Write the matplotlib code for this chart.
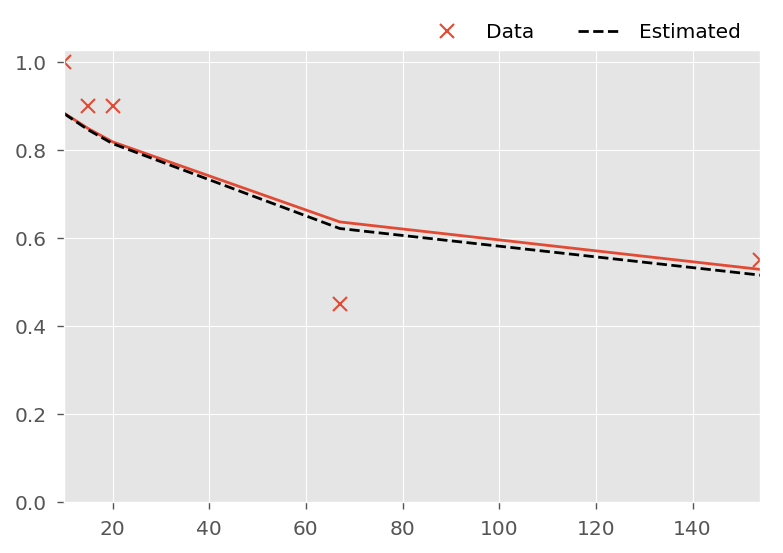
import matplotlib
matplotlib.use("Agg")
import matplotlib.pyplot as plt

plt.style.use("ggplot")

# observed points
data_x = [10, 15, 20, 67, 154]
data_y = [1.0, 0.9, 0.9, 0.45, 0.55]

# fitted curve (red) and estimated curve (black dashed)
fit_y = [0.884, 0.849, 0.819, 0.637, 0.529]
est_y = [0.883, 0.846, 0.815, 0.622, 0.516]

fig, ax = plt.subplots(figsize=(7.83, 5.53), dpi=100)

ax.plot(data_x, data_y, "x", color="#E24A33", markersize=10, markeredgewidth=1.5,
        label="Data")
ax.plot(data_x, fit_y, "-", color="#E24A33", linewidth=2)
ax.plot(data_x, est_y, "--", color="black", linewidth=2, label="Estimated")

ax.set_xlim(10, 154)
ax.set_ylim(0, 1.027)
ax.tick_params(labelsize=14.5, length=5, width=1, color="#555555", pad=7.7)

ax.legend(loc="lower right", bbox_to_anchor=(0.983, 1.0), ncol=2, frameon=False,
          fontsize=14.5, borderaxespad=0.0, columnspacing=2.2,
          handlelength=2.2, handletextpad=0.8)

fig.subplots_adjust(left=0.082, right=0.971, bottom=0.092, top=0.909)
fig.savefig("out.png")
